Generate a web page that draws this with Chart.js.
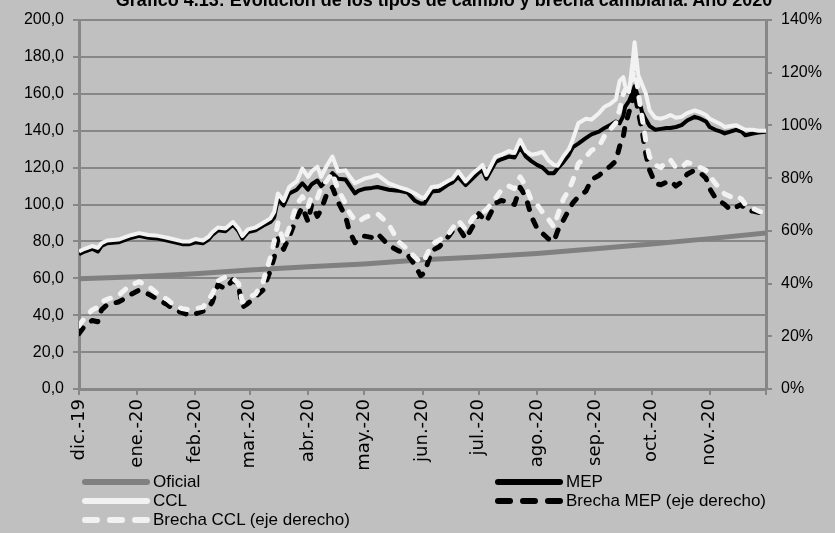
<!DOCTYPE html>
<html lang="es">
<head>
<meta charset="utf-8">
<title>Tipos de cambio y brecha cambiaria 2020</title>
<script src="https://cdn.jsdelivr.net/npm/chart.js@4.4.1/dist/chart.umd.min.js"></script>
<style>
  body { margin: 0; background: #c0c0c0; }
  #marco { position: relative; width: 835px; height: 533px; overflow: hidden; background: #c0c0c0; }
  #grafico { position: absolute; left: 0; top: 0; }
  #titulo {
    position: absolute; left: 0; top: -9px; width: 888px; text-align: center;
    font: bold 18px "Liberation Sans", Arial, sans-serif; line-height: 18px; color: #000;
    white-space: nowrap;
  }
  #leyenda {
    position: absolute; left: 82px; top: 472px;
    display: grid; grid-template-columns: 413px 300px;
    font: 17px "Liberation Sans", Arial, sans-serif; color: #000;
  }
  .item { display: flex; align-items: center; height: 19px; white-space: nowrap; }
  .item svg { margin-right: 3px; }
</style>
</head>
<body>
<div id="marco">
  <canvas id="grafico" width="835" height="533"></canvas>
  <div id="titulo">Gráfico 4.13: Evolución de los tipos de cambio y brecha cambiaria. Año 2020</div>
  <div id="leyenda"></div>
</div>
<script>
// Eje temporal: días desde el 1/12/2019, marcas al inicio de cada mes
const mesesDias = [0, 31, 62, 91, 122, 152, 183, 213, 244, 275, 305, 336, 366];
const mesesEtiquetas = ['dic.-19', 'ene.-20', 'feb.-20', 'mar.-20', 'abr.-20', 'may.-20',
  'jun.-20', 'jul.-20', 'ago.-20', 'sep.-20', 'oct.-20', 'nov.-20', ''];

// Tipo de cambio oficial ($ por dólar)
const diasOficial = [0, 31, 62, 91, 122, 152, 183, 213, 244, 275, 305, 336, 366];
const oficial = [59.7, 60.8, 62.5, 64.5, 66.3, 67.8, 70, 71.5, 73.5, 76, 78.6, 81.5, 84.5];

// Cotizaciones MEP y CCL (eje izquierdo) y brechas en % (eje derecho)
const dias = [0, 3, 7, 10, 12, 15, 21, 25, 28, 32,
  37, 42, 47, 51, 55, 59, 62, 66, 69, 71,
  74, 78, 82, 85, 87, 90, 94, 98, 102, 104,
  106, 109, 112, 116, 119, 122, 124, 127, 129, 132,
  135, 138, 142, 144, 147, 149, 152, 156, 159, 165,
  170, 175, 179, 182, 184, 188, 192, 197, 199, 202,
  206, 210, 213, 215, 217, 222, 225, 229, 232, 235,
  238, 241, 244, 247, 250, 253, 255, 258, 261, 263,
  266, 270, 273, 277, 280, 283, 286, 288, 290, 291,
  293, 295, 296, 298, 300, 302, 304, 307, 310, 313,
  315, 318, 321, 324, 328, 331, 334, 336, 339, 342,
  344, 347, 350, 353, 355, 359, 362, 366];

const ccl = [74.5, 76, 77.5, 76.5, 79, 80.5, 81, 82.5, 83.5, 84.5,
  83.5, 83, 82, 81, 80, 80, 81.3, 80.5, 82.5, 85,
  87.5, 87, 90.5, 87, 83, 86.5, 87.5, 90, 92.5, 96,
  106, 102, 109.5, 112.5, 119.5, 115, 118, 120.5, 115, 121,
  126, 118, 118.5, 115.5, 111.5, 112.5, 114, 115, 116, 111.5,
  109.5, 108, 106, 104, 103.5, 109.5, 110, 113, 114, 118,
  112.5, 117, 119.5, 121.5, 116, 126, 127, 129, 128, 135,
  129, 127, 127.5, 128.5, 124, 121.5, 121, 126, 130, 135,
  144, 146.5, 146, 149.5, 153, 154.5, 157, 167, 169, 164,
  161, 178, 188, 170, 165, 160, 151, 147, 146.5, 147.5,
  148.5, 147, 147.5, 149.5, 151, 150, 148.5, 146.5, 145, 143.5,
  142, 142.5, 143, 141.5, 140.5, 140.5, 140, 140];

const mep = [73, 74.5, 76, 74.5, 77.5, 79, 79.5, 81, 82, 83,
  82, 81.5, 80.5, 79.5, 78.5, 78.5, 79.5, 79, 81, 83.5,
  86, 85.5, 89, 85.5, 81.5, 85, 86, 88.5, 90.5, 93,
  103, 99.5, 106, 108, 111.5, 108, 111, 113, 110, 113,
  117, 114, 113.5, 110.5, 106, 107.5, 108.5, 109, 109.5, 108,
  107.5, 106.5, 102, 100.5, 100.5, 107, 107.5, 111, 112, 115,
  110.5, 114.5, 117.5, 118.5, 114, 123, 124.5, 126, 125.5, 131,
  126, 123.5, 121.5, 120, 117, 117, 119.5, 123, 127, 131,
  133, 136, 138, 139.5, 141.5, 143, 145, 144, 148, 153,
  156, 161, 164, 158, 150, 146, 142.5, 140.5, 141, 141.5,
  141.5, 142, 143, 145.5, 147.5, 146.5, 145, 142, 140.5, 139.5,
  138.5, 139.5, 140.5, 139.5, 137.5, 138.5, 139, 139.5];

const brechaCcl = [24, 27, 30, 31, 33, 34, 35.5, 38, 39.5, 40.7,
  39, 36, 34, 31.5, 30.5, 30, 30.5, 31, 33.8, 36,
  41, 42.5, 42, 40, 33, 34.5, 36, 40.5, 50, 56,
  63, 55.5, 61, 70, 73, 69, 73.5, 72.5, 76.5, 79,
  82, 75.5, 70.5, 67, 64, 63.5, 65, 66, 66.5, 62.5,
  56, 53, 50, 48, 49, 55, 56.5, 59, 61, 64,
  60.5, 65, 66.5, 67, 68, 72.5, 75.5, 77, 76, 80.5,
  77, 71.5, 70, 67, 64.5, 61.5, 66, 72, 75.5, 79,
  85.5, 88, 90.5, 92, 96, 98.5, 101, 106, 112, 113.5,
  114, 118, 124, 112, 103, 94, 88, 85, 84, 86.5,
  87, 84, 84, 86, 85, 84, 83, 81, 78, 75.5,
  74, 73, 73.5, 72, 70, 68.5, 67.5, 66.5];

const brechaMep = [21, 24, 26, 25.5, 30, 32, 33, 34.5, 36, 37.5,
  36, 34, 32, 30, 29, 28, 28.5, 29.5, 31, 33,
  39.5, 38, 41.4, 39, 31, 32.5, 35, 37.5, 45, 50,
  57, 53, 57.8, 65, 69, 63.5, 70, 65.5, 68, 74,
  76.5, 71, 65.5, 60, 55.5, 57, 58, 57.5, 59, 54.5,
  52.5, 51, 47, 43, 44, 52.5, 54, 58, 60, 61.5,
  57, 62, 66.5, 65, 63.5, 70.5, 71.5, 71, 70, 76.5,
  73, 65.5, 61, 59, 57, 56, 60, 64, 68, 70.5,
  73, 75, 79.5, 81, 83, 84.5, 86.5, 92, 96, 100,
  105, 110, 113, 105, 98, 89, 83, 78, 77.5, 78.5,
  79, 77, 78.5, 81.5, 83, 82, 80, 76, 72.5, 71,
  70, 68, 69, 70, 68, 67.5, 67, 66.5];

const gris = '#878787';
const blanco = '#f2f2f2';
const guion = [7, 11];

// orden: el número más bajo se dibuja encima
const series = [
  { label: 'Oficial', xs: diasOficial, ys: oficial, color: '#808080', ancho: 5, dash: [], eje: 'y', orden: 5 },
  { label: 'MEP', xs: dias, ys: mep, color: '#000000', ancho: 4, dash: [], eje: 'y', orden: 4 },
  { label: 'CCL', xs: dias, ys: ccl, color: blanco, ancho: 4, dash: [], eje: 'y', orden: 3 },
  { label: 'Brecha MEP (eje derecho)', xs: dias, ys: brechaMep, color: '#000000', ancho: 5, dash: guion, eje: 'y2', orden: 2 },
  { label: 'Brecha CCL (eje derecho)', xs: dias, ys: brechaCcl, color: blanco, ancho: 5, dash: guion, eje: 'y2', orden: 1 }
];

const datasets = series.map(s => ({
  label: s.label,
  data: s.xs.map((d, i) => ({ x: d, y: s.ys[i] })),
  borderColor: s.color,
  backgroundColor: s.color,
  borderWidth: s.ancho,
  borderDash: s.dash,
  borderCapStyle: s.dash.length ? 'round' : 'butt',
  borderJoinStyle: 'round',
  pointRadius: 0,
  tension: 0,
  yAxisID: s.eje,
  order: s.orden
}));

const fuenteEje = { family: '"Liberation Sans", Arial, sans-serif', size: 16 };

new Chart(document.getElementById('grafico'), {
  type: 'line',
  data: { datasets },
  options: {
    responsive: false,
    animation: false,
    events: [],
    layout: { padding: { top: 20, bottom: 0, left: 0, right: 0 } },
    plugins: { legend: { display: false }, tooltip: { enabled: false } },
    scales: {
      x: {
        type: 'linear',
        min: 0,
        max: 366,
        afterBuildTicks: scale => { scale.ticks = mesesDias.map(v => ({ value: v })); },
        afterFit: scale => { scale.height = 144; },
        ticks: {
          autoSkip: false,
          minRotation: 90,
          maxRotation: 90,
          padding: 4,
          color: '#000',
          font: { family: '"DejaVu Sans", Verdana, sans-serif', size: 18 },
          callback: value => mesesEtiquetas[mesesDias.indexOf(value)]
        },
        grid: { drawOnChartArea: false, tickLength: 6, color: gris, lineWidth: 2 },
        border: { color: gris, width: 3 }
      },
      y: {
        position: 'left',
        min: 0,
        max: 200,
        afterFit: scale => { scale.width = 79; },
        ticks: {
          stepSize: 20,
          padding: 9,
          color: '#000',
          font: fuenteEje,
          callback: v => v.toFixed(1).replace('.', ',')
        },
        grid: { color: gris, lineWidth: 2, tickLength: 6 },
        border: { color: gris, width: 3 }
      },
      y2: {
        position: 'right',
        min: 0,
        max: 140,
        afterFit: scale => { scale.width = 69; },
        ticks: {
          stepSize: 20,
          padding: 9,
          color: '#000',
          font: fuenteEje,
          callback: v => v + '%'
        },
        grid: { drawOnChartArea: false, tickLength: 6, color: gris, lineWidth: 2 },
        border: { color: gris, width: 3 }
      }
    }
  }
});

// Leyenda en dos columnas con muestras de línea
const ordenLeyenda = ['Oficial', 'MEP', 'CCL', 'Brecha MEP (eje derecho)', 'Brecha CCL (eje derecho)'];
const leyenda = document.getElementById('leyenda');
ordenLeyenda.forEach(nombre => {
  const s = series.find(x => x.label === nombre);
  const discontinua = s.dash.length > 0;
  const item = document.createElement('div');
  item.className = 'item';
  item.innerHTML =
    `<svg width="68" height="10"><line x1="3" y1="5" x2="65" y2="5" stroke="${s.color}" stroke-width="6"` +
    ` stroke-linecap="round"${discontinua ? ' stroke-dasharray="12 13"' : ''}/></svg><span>${s.label}</span>`;
  leyenda.appendChild(item);
});
</script>
</body>
</html>
